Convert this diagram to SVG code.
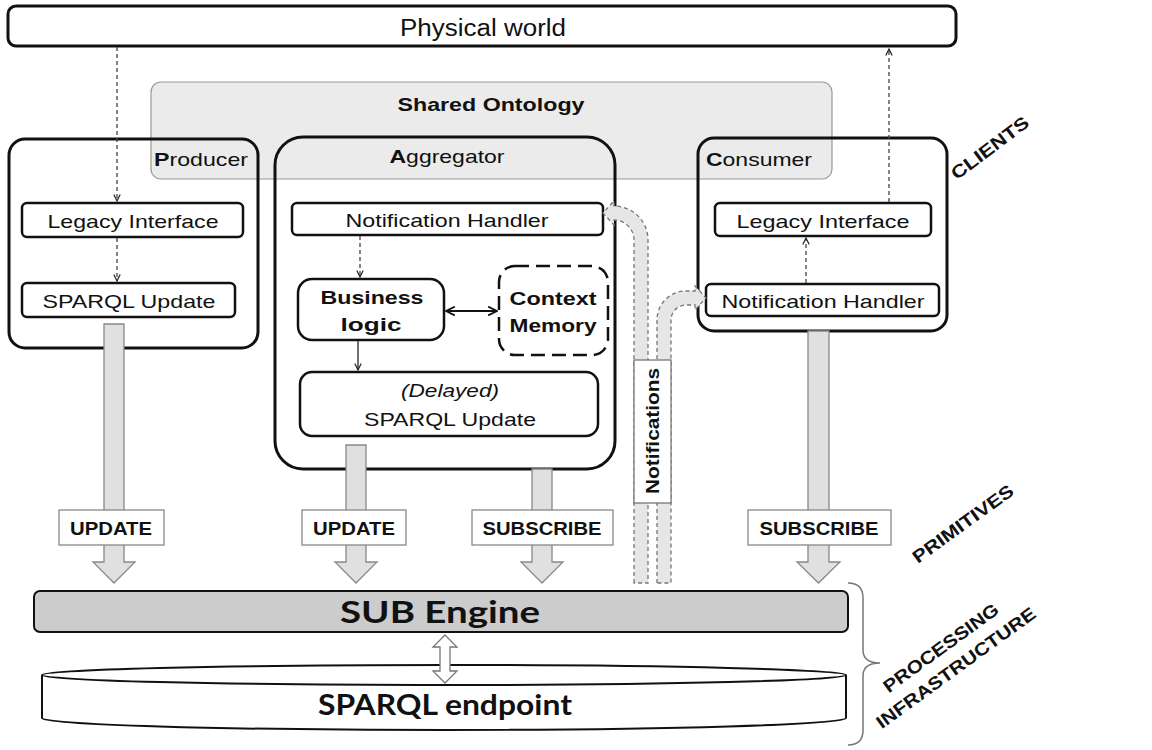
<svg xmlns="http://www.w3.org/2000/svg" width="1152" height="750" viewBox="0 0 1152 750">
<defs>
<style>
text{font-family:"Liberation Sans",Arial,sans-serif;fill:#111}
.box{fill:none;stroke:#111;stroke-width:3}
.ibox{fill:#fff;stroke:#111;stroke-width:2.5}
.t19{font-size:19px}
.c{text-anchor:middle}
.b{font-weight:bold}
.dash{fill:none;stroke:#444;stroke-width:1.3;stroke-dasharray:4 3}
.thin{fill:none;stroke:#222;stroke-width:1.3}
.big{fill:#e0e0e0;stroke:#888;stroke-width:1.3}
.lbl{fill:#fff;stroke:#888;stroke-width:1.3}
.lt{font-size:18px;font-weight:bold;text-anchor:middle}
.notif{fill:#e6e6e6;stroke:#777;stroke-width:1.3;stroke-dasharray:4 3}
.side{font-size:18px;font-weight:bold;text-anchor:middle}
.cal{font-family:Lato,"Open Sans",sans-serif;font-weight:bold;text-anchor:middle}
</style>
<marker id="chev" viewBox="0 0 10 10" refX="9" refY="5" markerWidth="8" markerHeight="8" orient="auto-start-reverse" markerUnits="userSpaceOnUse">
<path d="M1,1 L9,5 L1,9" fill="none" stroke="#222" stroke-width="1.5"/>
</marker>
<marker id="chev2" viewBox="0 0 10 10" refX="9" refY="5" markerWidth="11" markerHeight="11" orient="auto-start-reverse" markerUnits="userSpaceOnUse">
<path d="M1,1 L9,5 L1,9" fill="none" stroke="#111" stroke-width="1.6"/>
</marker>
</defs>
<rect width="1152" height="750" fill="#fff"/>

<g id="physical-world">
<rect x="8" y="6" width="948" height="40" rx="8" class="box" stroke-width="2.5"/>
<text x="483" y="36" class="c" font-size="23" textLength="166" lengthAdjust="spacingAndGlyphs">Physical world</text>
</g>

<g id="shared-ontology">
<rect x="151" y="82" width="681" height="97" rx="10" fill="#ebebeb" stroke="#999" stroke-width="1.2"/>
<text x="491" y="111" class="c b" font-size="19" textLength="187" lengthAdjust="spacingAndGlyphs">Shared Ontology</text>
</g>

<g id="producer">
<rect x="9" y="139" width="249" height="209" rx="16" class="box"/>
<text x="154" y="166" class="t19" textLength="94" lengthAdjust="spacingAndGlyphs"><tspan class="b">P</tspan>roducer</text>
</g>
<g id="producer-legacy-interface">
<rect x="22" y="203" width="221" height="34" rx="5" class="ibox"/>
<text x="133" y="228" class="t19 c" textLength="171" lengthAdjust="spacingAndGlyphs">Legacy Interface</text>
</g>
<g id="producer-sparql-update">
<rect x="22" y="283" width="213" height="34" rx="5" class="ibox"/>
<text x="129" y="308" class="t19 c" textLength="173" lengthAdjust="spacingAndGlyphs">SPARQL Update</text>
</g>

<g id="aggregator">
<rect x="275" y="137" width="340" height="332" rx="28" class="box"/>
<text x="447" y="163" class="t19 c" textLength="115" lengthAdjust="spacingAndGlyphs"><tspan class="b">A</tspan>ggregator</text>
</g>
<g id="aggregator-notification-handler">
<rect x="292" y="203" width="311" height="32" rx="5" class="ibox"/>
<text x="447" y="227" class="t19 c" textLength="203" lengthAdjust="spacingAndGlyphs">Notification Handler</text>
</g>
<g id="business-logic">
<rect x="298" y="279" width="146" height="61" rx="14" class="ibox"/>
<text x="372" y="304" class="t19 c b" textLength="103" lengthAdjust="spacingAndGlyphs">Business</text>
<text x="371" y="331" class="t19 c b" textLength="61" lengthAdjust="spacingAndGlyphs">logic</text>
</g>
<g id="context-memory">
<rect x="499" y="266" width="109" height="89" rx="16" fill="#fff" stroke="#111" stroke-width="2.5" stroke-dasharray="14 7"/>
<text x="553" y="305" class="t19 c b" textLength="87" lengthAdjust="spacingAndGlyphs">Context</text>
<text x="553" y="332" class="t19 c b" textLength="87" lengthAdjust="spacingAndGlyphs">Memory</text>
</g>
<g id="delayed-sparql-update">
<rect x="300" y="372" width="298" height="64" rx="12" class="ibox"/>
<text x="450" y="397" class="t19 c" font-style="italic" textLength="98" lengthAdjust="spacingAndGlyphs">(Delayed)</text>
<text x="450" y="426" class="t19 c" textLength="172" lengthAdjust="spacingAndGlyphs">SPARQL Update</text>
</g>

<g id="consumer">
<rect x="698" y="138" width="249" height="193" rx="16" class="box"/>
<text x="706" y="166" class="t19" textLength="106" lengthAdjust="spacingAndGlyphs"><tspan class="b">C</tspan>onsumer</text>
</g>
<g id="consumer-legacy-interface">
<rect x="715" y="203" width="216" height="33" rx="5" class="ibox"/>
<text x="823" y="228" class="t19 c" textLength="173" lengthAdjust="spacingAndGlyphs">Legacy Interface</text>
</g>
<g id="consumer-notification-handler">
<rect x="706" y="284" width="233" height="32" rx="5" class="ibox"/>
<text x="823" y="308" class="t19 c" textLength="203" lengthAdjust="spacingAndGlyphs">Notification Handler</text>
</g>

<g id="sub-engine">
<rect x="34" y="591" width="814" height="41" rx="6" fill="#cccccc" stroke="#111" stroke-width="2"/>
<text x="440" y="623" class="cal" font-size="31" textLength="200" lengthAdjust="spacingAndGlyphs">SUB Engine</text>
</g>

<g id="sparql-endpoint">
<path d="M42,675 L42,718 A402,12 0 0 0 846,718 L846,675" fill="#fff" stroke="#111" stroke-width="2"/>
<ellipse cx="444" cy="675" rx="402" ry="10" fill="#fff" stroke="#111" stroke-width="2"/>
<text x="445" y="715" class="cal" font-size="29" textLength="254" lengthAdjust="spacingAndGlyphs">SPARQL endpoint</text>
</g>

<g id="connectors">
<line x1="117" y1="47" x2="117" y2="201" class="dash" marker-end="url(#chev)"/>
<line x1="117" y1="238" x2="117" y2="281" class="dash" marker-end="url(#chev)"/>
<line x1="360" y1="236" x2="360" y2="277" class="dash" marker-end="url(#chev)"/>
<line x1="358" y1="341" x2="358" y2="370" class="thin" marker-end="url(#chev)"/>
<line x1="446" y1="311" x2="497" y2="311" fill="none" stroke="#111" stroke-width="2" marker-start="url(#chev2)" marker-end="url(#chev2)"/>
<line x1="806" y1="283" x2="806" y2="238" class="dash" marker-end="url(#chev)"/>
<line x1="889" y1="202" x2="889" y2="49" class="dash" marker-end="url(#chev)"/>

<path d="M104,324 L124,324 L124,562 L135,562 L114,583 L93,562 L104,562 Z" class="big"/>
<path d="M346,445 L366,445 L366,562 L377,562 L356,583 L335,562 L346,562 Z" class="big"/>
<path d="M532,469 L552,469 L552,562 L563,562 L542,583 L521,562 L532,562 Z" class="big"/>
<path d="M808,331 L829,331 L829,562 L840,562 L818.5,583 L797,562 L808,562 Z" class="big"/>

<rect x="59" y="510" width="105" height="35" class="lbl"/>
<text x="111" y="535" class="lt" textLength="82" lengthAdjust="spacingAndGlyphs">UPDATE</text>
<rect x="302" y="510" width="104" height="35" class="lbl"/>
<text x="354" y="535" class="lt" textLength="82" lengthAdjust="spacingAndGlyphs">UPDATE</text>
<rect x="472" y="510" width="141" height="35" class="lbl"/>
<text x="542" y="535" class="lt" textLength="119" lengthAdjust="spacingAndGlyphs">SUBSCRIBE</text>
<rect x="748" y="510" width="143" height="35" class="lbl"/>
<text x="819" y="535" class="lt" textLength="119" lengthAdjust="spacingAndGlyphs">SUBSCRIBE</text>

<path d="M634,583 L634,240 A20,20 0 0 0 614,220 L614,225 L603,213 L614,201 L614,206 A34,34 0 0 1 648,240 L648,583 Z" class="notif"/>
<path d="M657,583 L657,320 A29,29 0 0 1 686,291 L695,291 L695,286 L706,298 L695,310 L695,305 L686,305 A15,15 0 0 0 671,320 L671,583 Z" class="notif"/>
<rect x="634" y="360" width="37" height="143" fill="#fff" stroke="#777" stroke-width="1.3"/>
<text transform="translate(659,431) rotate(-90)" class="b c" font-size="18" textLength="126" lengthAdjust="spacingAndGlyphs">Notifications</text>

<path d="M445,635 L457,647 L450,647 L450,671 L457,671 L445,683 L433,671 L440,671 L440,647 L433,647 Z" fill="#fff" stroke="#777" stroke-width="1.3"/>

<path d="M848,583 Q863,583 863,598 L863,650 Q863,663 880,663 Q863,663 863,676 L863,730 Q863,745 848,745" fill="none" stroke="#777" stroke-width="1.5"/>
</g>

<g id="side-labels">
<text transform="translate(990,148) rotate(-37)" y="6" class="side" textLength="92" lengthAdjust="spacingAndGlyphs">CLIENTS</text>
<text transform="translate(963,524) rotate(-36)" y="6" class="side" textLength="120" lengthAdjust="spacingAndGlyphs">PRIMITIVES</text>
<text transform="translate(941,648) rotate(-36)" y="6" class="side" textLength="138" lengthAdjust="spacingAndGlyphs">PROCESSING</text>
<text transform="translate(956,668) rotate(-36)" y="6" class="side" textLength="192" lengthAdjust="spacingAndGlyphs">INFRASTRUCTURE</text>
</g>
</svg>
